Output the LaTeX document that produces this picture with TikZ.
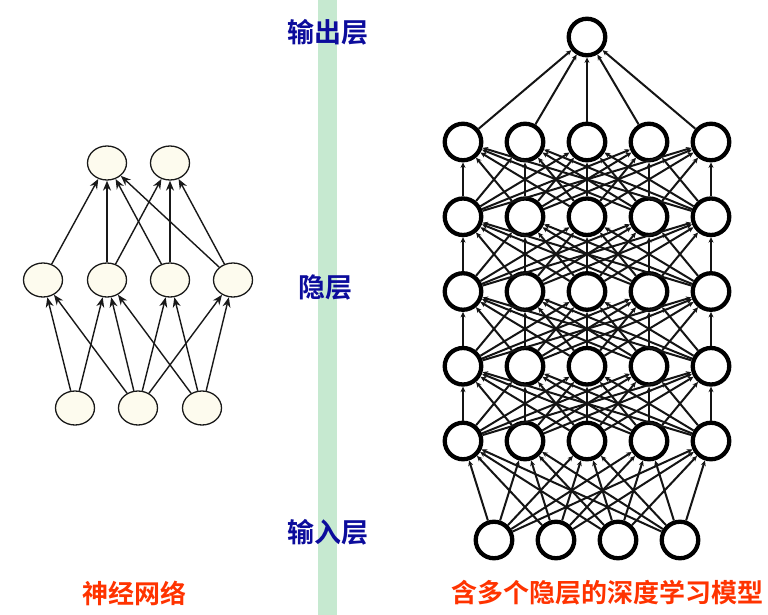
\documentclass[tikz,border=0pt]{standalone}
\usepackage{fontspec}
\newfontfamily\cjk{Noto Sans CJK SC Bold}
\usetikzlibrary{arrows.meta,shapes.geometric}
\definecolor{cream}{HTML}{FDFBEE}
\definecolor{stripegreen}{HTML}{C6E9D0}
\definecolor{labelblue}{HTML}{0C0C9C}
\definecolor{labelred}{HTML}{FF3300}
\begin{document}
\begin{tikzpicture}[x=1pt,y=-1pt,
  lnode/.style={ellipse,draw=black!90,line width=1.3pt,fill=cream,minimum width=39pt,minimum height=34pt,inner sep=0pt},
  ledge/.style={draw=black!90,line width=1.4pt,-{Stealth[length=10pt,width=8pt]}},
  rnode/.style={circle,draw=black,line width=4.3pt,fill=white,minimum size=36.5pt,inner sep=0pt},
  redge/.style={draw=black!92,line width=2pt,-{Stealth[length=5.5pt,width=5pt]}},
  bluelabel/.style={font=\cjk\fontsize{27}{27}\selectfont,text=labelblue,inner sep=0pt},
  redlabel/.style={font=\cjk\fontsize{26}{26}\selectfont,text=labelred,inner sep=0pt}]
\useasboundingbox (0,0) rectangle (768,615);
\fill[white] (0,0) rectangle (768,615);
\fill[stripegreen] (318,0) rectangle (337,615);

% left network
\node[lnode] (t1) at (107,163) {};
\node[lnode] (t2) at (170,163) {};
\node[lnode] (m1) at (43,280) {};
\node[lnode] (m2) at (107,280) {};
\node[lnode] (m3) at (170,280) {};
\node[lnode] (m4) at (233,280) {};
\node[lnode] (b1) at (75,408) {};
\node[lnode] (b2) at (138,408) {};
\node[lnode] (b3) at (202,408) {};
\foreach \a/\b in {b1/m1,b1/m2,b2/m1,b2/m2,b2/m3,b2/m4,b3/m2,b3/m3,b3/m4,
                   m1/t1,m2/t1,m2/t2,m3/t1,m3/t2,m4/t1,m4/t2}
  \draw[ledge] (\a) -- (\b);

% right network
\node[rnode] (out) at (587,37) {};
\foreach \k in {1,...,5}
  \foreach \i in {1,...,5}
    \node[rnode] (h\k-\i) at ({401+62*\i},{142+74.75*(\k-1)}) {};
\foreach \i in {1,...,4}
  \node[rnode] (in\i) at ({432+62*\i},540) {};
\foreach \i in {1,...,5}
  \draw[redge] (h1-\i) -- (out);
\foreach \k/\kk in {1/2,2/3,3/4,4/5}
  \foreach \i in {1,...,5}
    \foreach \j in {1,...,5}
      \draw[redge] (h\kk-\i) -- (h\k-\j);
\foreach \i in {1,...,4}
  \foreach \j in {1,...,5}
    \draw[redge] (in\i) -- (h5-\j);

% labels
\node[bluelabel] (lout) at (328,32) {输出层};
\node[bluelabel] (lhid) at (325,287) {隐层};
\node[bluelabel] (lin) at (328,532) {输入层};
\node[redlabel] (lnn) at (134,593) {神经网络};
\node[redlabel] (ldl) at (607,593) {含多个隐层的深度学习模型};
\end{tikzpicture}
\end{document}
